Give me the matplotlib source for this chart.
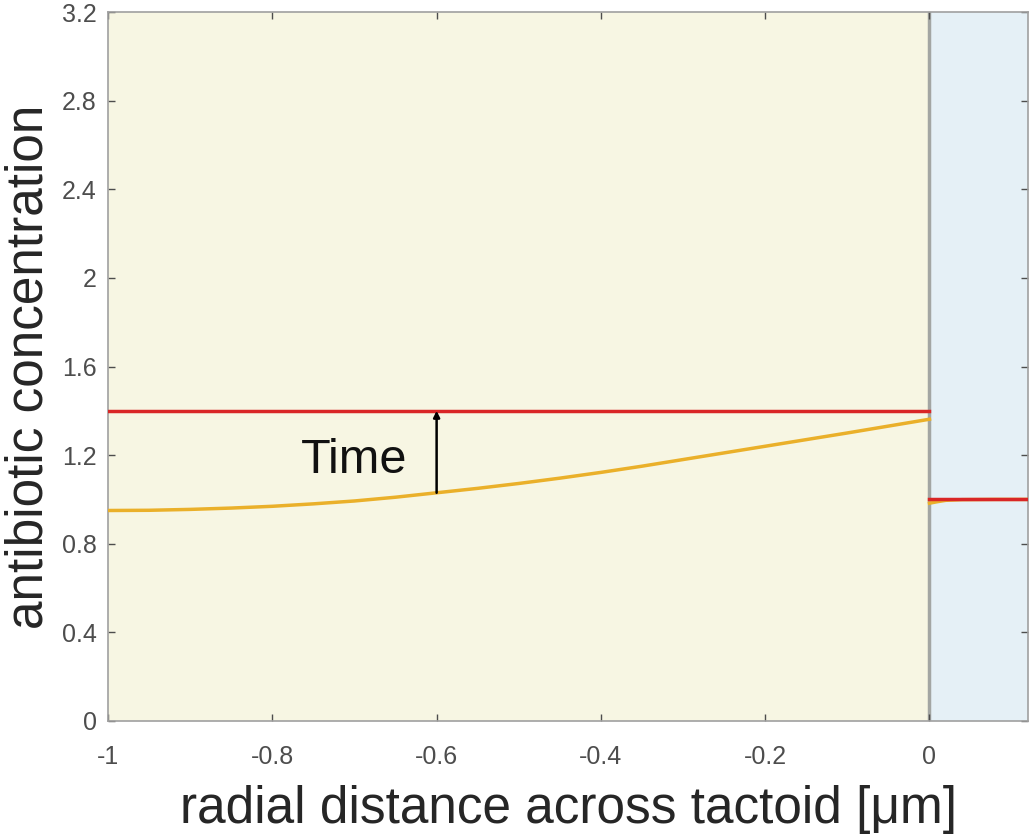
import numpy as np
import matplotlib
matplotlib.use('Agg')
import matplotlib.pyplot as plt

plt.rcParams['font.family'] = ['Liberation Sans', 'DejaVu Sans']

# inside the tactoid (x < 0)
x_in = [-1.0, -0.95, -0.9, -0.85, -0.8, -0.75, -0.7, -0.65, -0.6, -0.55, -0.5,
        -0.45, -0.4, -0.35, -0.3, -0.25, -0.2, -0.15, -0.1, -0.05, 0.0]
c_early_in = [0.950, 0.951, 0.955, 0.961, 0.969, 0.980, 0.993, 1.010, 1.030, 1.050, 1.072,
              1.096, 1.122, 1.150, 1.180, 1.210, 1.240, 1.270, 1.300, 1.331, 1.362]
c_late_in = [1.40] * len(x_in)

# outside (x > 0)
x_out = [0.0, 0.01, 0.02, 0.04, 0.08, 0.12]
c_early_out = [0.983, 0.990, 0.996, 0.999, 1.0, 1.0]
c_late_out = [1.0, 1.0, 1.0, 1.0, 1.0, 1.0]

xticks = [-1, -0.8, -0.6, -0.4, -0.2, 0]
xticklabels = ['-1', '-0.8', '-0.6', '-0.4', '-0.2', '0']
yticks = [0, 0.4, 0.8, 1.2, 1.6, 2, 2.4, 2.8, 3.2]
yticklabels = ['0', '0.4', '0.8', '1.2', '1.6', '2', '2.4', '2.8', '3.2']

fig = plt.figure(figsize=(10.30, 8.36), dpi=100)
ax = fig.add_axes([0.1049, 0.1376, 0.8932, 0.848])

ax.axvspan(-1, 0, color='#f7f6e3', zorder=0)
ax.axvspan(0, 0.12, color='#e5f0f6', zorder=0)
ax.axvline(0, color='#a3a6a3', lw=2.5, zorder=1)

orange = '#eab02a'
red = '#d92626'
ax.plot(x_in, c_early_in, color=orange, lw=2.5, zorder=3)
ax.plot(x_out, c_early_out, color=orange, lw=2.5, zorder=3)
ax.plot(x_in, c_late_in, color=red, lw=2.5, zorder=4)
ax.plot(x_out, c_late_out, color=red, lw=2.5, zorder=4)

ax.annotate('', xy=(-0.6, 1.40), xytext=(-0.6, 1.03),
            arrowprops=dict(arrowstyle='-|>', color='black', lw=1.8,
                            mutation_scale=9, shrinkA=0, shrinkB=0), zorder=5)
ax.text(-0.7, 1.175, 'Time', fontsize=35, ha='center', va='center', color='#111111')

ax.set_xlim(-1, 0.12)
ax.set_ylim(0, 3.2)
ax.set_xticks(xticks)
ax.set_xticklabels(xticklabels)
ax.set_yticks(yticks)
ax.set_yticklabels(yticklabels)
ax.tick_params(direction='in', length=5, width=1, colors='#4d4d4d',
               labelsize=18, top=True, right=True)
ax.tick_params(axis='x', pad=17)
ax.tick_params(axis='y', pad=8)
for s in ax.spines.values():
    s.set_color('#a0a0a0')
    s.set_linewidth(1.2)

ax.set_xlabel('radial distance across tactoid [μm]', fontsize=37, color='#262626', labelpad=12)
ax.set_ylabel('antibiotic concentration', fontsize=37, color='#262626', labelpad=6)

fig.savefig('out.png', dpi=100)
